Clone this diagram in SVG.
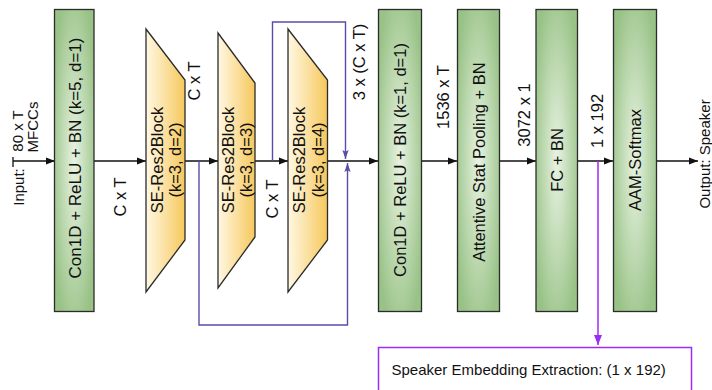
<svg xmlns="http://www.w3.org/2000/svg" width="712" height="390" viewBox="0 0 712 390">
<style>
.t{font-family:"Liberation Sans",Arial,sans-serif;font-size:16.5px;fill:#111;}
.s{font-family:"Liberation Sans",Arial,sans-serif;font-size:15px;fill:#111;}
.box{fill:url(#g);stroke:#2b2b2b;stroke-width:1.3;}
.trap{fill:url(#y);stroke:#2b2b2b;stroke-width:1.3;}
.ln{stroke:#111;stroke-width:1.3;fill:none;}
.fb{stroke:#5f4aa8;stroke-width:1.4;fill:none;}
.vi{stroke:#9a2cf5;stroke-width:1.5;fill:none;}
</style>
<defs>
<radialGradient id="g" cx="0.5" cy="0.5" r="0.6">
<stop offset="0" stop-color="#e8f3e2"/>
<stop offset="1" stop-color="#98c286"/>
</radialGradient>
<linearGradient id="y" x1="0" y1="0" x2="1" y2="0">
<stop offset="0" stop-color="#fff8e4"/>
<stop offset="1" stop-color="#f6c85c"/>
</linearGradient>
<marker id="a" viewBox="0 0 10 10" refX="10" refY="5" markerWidth="9" markerHeight="9" markerUnits="userSpaceOnUse" orient="auto">
<path d="M0,1 L10,5 L0,9 z" fill="#111"/>
</marker>
<marker id="ab" viewBox="0 0 10 10" refX="10" refY="5" markerWidth="9" markerHeight="9" markerUnits="userSpaceOnUse" orient="auto">
<path d="M0,1.5 L10,5 L0,8.5 L2,5 z" fill="#5f4aa8"/>
</marker>
<marker id="av" viewBox="0 0 10 10" refX="10" refY="5" markerWidth="10" markerHeight="10" markerUnits="userSpaceOnUse" orient="auto">
<path d="M0,1 L10,5 L0,9 z" fill="#9a2cf5"/>
</marker>
</defs>

<g id="connectors">
<line class="ln" x1="13" y1="157" x2="13" y2="167"/>
<line class="ln" x1="13" y1="161" x2="55" y2="161" marker-end="url(#a)"/>
<line class="ln" x1="94" y1="161" x2="146" y2="161" marker-end="url(#a)"/>
<line class="ln" x1="185" y1="161" x2="218" y2="161" marker-end="url(#a)"/>
<line class="ln" x1="255" y1="161" x2="288" y2="161" marker-end="url(#a)"/>
<line class="ln" x1="327" y1="161" x2="378" y2="161" marker-end="url(#a)"/>
<line class="ln" x1="422" y1="161" x2="457" y2="161" marker-end="url(#a)"/>
<line class="ln" x1="499" y1="161" x2="536" y2="161" marker-end="url(#a)"/>
<line class="ln" x1="577" y1="161" x2="613" y2="161" marker-end="url(#a)"/>
<line class="ln" x1="657" y1="161" x2="698" y2="161" marker-end="url(#a)"/>
<polyline class="fb" points="199,161 199,325 347.5,325 347.5,163" marker-end="url(#ab)"/>
<polyline class="fb" points="272.5,161 272.5,22 345.5,22 345.5,159" marker-end="url(#ab)"/>
<line class="vi" x1="598" y1="161" x2="598" y2="345" marker-end="url(#av)"/>
</g>

<g id="conv1">
<rect class="box" x="54.5" y="9.5" width="39.5" height="302"/>
<text class="t" style="font-size:17px" text-anchor="middle" transform="translate(80.5,158) rotate(-90)">Con1D + ReLU + BN (k=5, d=1)</text>
</g>
<g id="se1">
<polygon class="trap" points="146,29 185,80 185,240 146,292"/>
<text class="t" text-anchor="middle" transform="translate(163,160) rotate(-90)">SE-Res2Block</text>
<text class="t" text-anchor="middle" transform="translate(180.5,160) rotate(-90)">(k=3, d=2)</text>
</g>
<g id="se2">
<polygon class="trap" points="218,33 255,83 255,237 218,288"/>
<text class="t" text-anchor="middle" transform="translate(233.5,160) rotate(-90)">SE-Res2Block</text>
<text class="t" text-anchor="middle" transform="translate(252,160) rotate(-90)">(k=3, d=3)</text>
</g>
<g id="se3">
<polygon class="trap" points="288,29 327.5,80 327.5,240 288,292"/>
<text class="t" text-anchor="middle" transform="translate(305,160) rotate(-90)">SE-Res2Block</text>
<text class="t" text-anchor="middle" transform="translate(323.5,160) rotate(-90)">(k=3, d=4)</text>
</g>
<g id="conv2">
<rect class="box" x="378.5" y="9.5" width="43" height="302"/>
<text class="t" text-anchor="middle" transform="translate(406,160) rotate(-90)">Con1D + ReLU + BN (k=1, d=1)</text>
</g>
<g id="pool">
<rect class="box" x="457.5" y="9.5" width="42" height="302"/>
<text class="t" text-anchor="middle" transform="translate(484.5,162) rotate(-90)">Attentive Stat Pooling + BN</text>
</g>
<g id="fc">
<rect class="box" x="536" y="9.5" width="41.5" height="302"/>
<text class="t" text-anchor="middle" transform="translate(562.5,160) rotate(-90)">FC + BN</text>
</g>
<g id="aam">
<rect class="box" x="613.5" y="9.5" width="43" height="302"/>
<text class="t" text-anchor="middle" transform="translate(641,160) rotate(-90)">AAM-Softmax</text>
</g>
<g id="embed">
<rect x="378.5" y="347.5" width="313" height="60" fill="#fff" stroke="#9a2cf5" stroke-width="1.5"/>
<text class="s" x="391.5" y="375">Speaker Embedding Extraction: (1 x 192)</text>
</g>

<g id="labels">
<text class="s" text-anchor="middle" transform="translate(24,187) rotate(-90)">Input:</text>
<text class="s" text-anchor="middle" transform="translate(23,131) rotate(-90)">80 x T</text>
<text class="s" text-anchor="middle" transform="translate(38,127) rotate(-90)">MFCCs</text>
<text class="t" text-anchor="middle" transform="translate(126,197) rotate(-90)">C x T</text>
<text class="t" text-anchor="middle" transform="translate(200,81) rotate(-90)">C x T</text>
<text class="t" text-anchor="middle" transform="translate(278,199) rotate(-90)">C x T</text>
<text class="t" text-anchor="middle" transform="translate(365,62) rotate(-90)">3 x (C x T)</text>
<text class="t" text-anchor="middle" transform="translate(449,97) rotate(-90)">1536 x T</text>
<text class="t" text-anchor="middle" transform="translate(530,115) rotate(-90)">3072 x 1</text>
<text class="t" text-anchor="middle" transform="translate(603,121) rotate(-90)">1 x 192</text>
<text class="s" text-anchor="middle" transform="translate(710,154) rotate(-90)">Output: Speaker</text>
</g>
</svg>
